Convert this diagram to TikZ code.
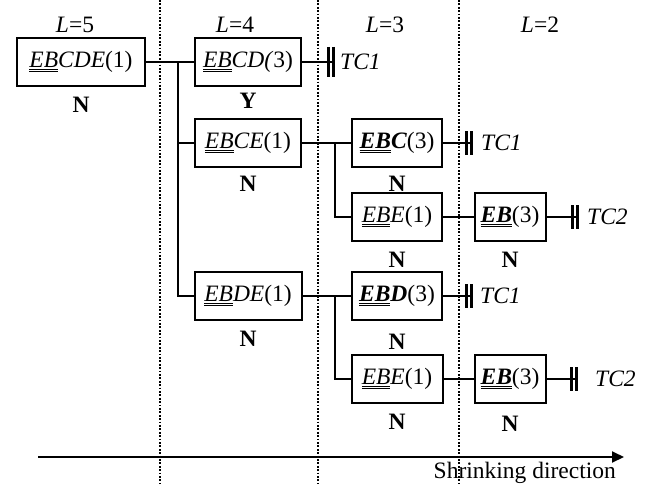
\documentclass[tikz,border=0pt]{standalone}
\usepackage{fontspec}
\setmainfont{Liberation Serif}
\usepackage{tikz}
\usetikzlibrary{positioning,arrows.meta}
\newcommand{\dul}[1]{\setbox0\hbox{#1}\rlap{\rule[-2.4pt]{\wd0}{0.75pt}}\rlap{\rule[-4.2pt]{\wd0}{0.75pt}}\box0}

\begin{document}
\begin{tikzpicture}[x=1pt,y=-1pt,font=\fontsize{23.5}{28}\selectfont,
	blk/.style={draw,line width=2pt,minimum height=48pt,inner sep=0pt},
	ans/.style={inner sep=0pt,font=\fontsize{23.5}{28}\selectfont\bfseries},
	lnk/.style={line width=2.2pt},
	tcbar/.style={lnk,-{Bar[width=#1,line width=3.2pt,sep=1.4pt]Bar[width=#1,line width=3.2pt]}},
	tcbar/.default=24pt,
	tc/.style={anchor=west,inner sep=0pt,font=\fontsize{23.5}{28}\selectfont\itshape},
	divider/.style={line width=1.8pt,dash pattern=on 1.8pt off 1.6pt}]
\useasboundingbox (0,0) rectangle (650,484);
\draw[divider] (160,0) -- (160,484);
\draw[divider] (318,0) -- (318,484);
\draw[divider] (459,0) -- (459,484);

\node at (75,25) {\textit{L}=5};
\node at (235,25) {\textit{L}=4};
\node at (385,25) {\textit{L}=3};
\node at (540,25) {\textit{L}=2};

	\node[blk,minimum width=128pt] (ebcde) at (81,62) {\textit{\dul{EB}CDE}(1)};
	\node[blk,minimum width=106pt] (ebcd) at (248,62) {\textit{\dul{EB}CD(}3)};
	\node[blk,minimum width=106pt] (ebce) at (248,143) {\textit{\dul{EB}CE}(1)};
	\node[blk,minimum width=107pt] (ebde) at (248,296) {\textit{\dul{EB}DE}(1)};
	\node[blk,minimum width=90pt] (ebc) at (397,143) {\textbf{\textit{\dul{EB}C}}(3)};
	\node[blk,minimum width=90pt] (ebeA) at (397,217) {\textit{\dul{EB}E}(1)};
	\node[blk,minimum width=71pt] (ebA) at (510,217) {\textbf{\textit{\dul{EB}}}(3)};
	\node[blk,minimum width=90pt] (ebd) at (397,296) {\textbf{\textit{\dul{EB}D}}(3)};
	\node[blk,minimum width=91pt] (ebeB) at (397,379) {\textit{\dul{EB}E}(1)};
	\node[blk,minimum width=71pt] (ebB) at (510,379) {\textbf{\textit{\dul{EB}}}(3)};

	\node[ans,below=10pt of ebcde] (nEbcde) {N};
	\node[ans,below=6pt of ebcd] (yEbcd) {Y};
	\node[ans,below=8pt of ebce] (nEbce) {N};
	\node[ans,below=10pt of ebde] (nEbde) {N};
	\node[ans,below=8pt of ebc] (nEbc) {N};
	\node[ans,below=10pt of ebeA] (nEbeA) {N};
	\node[ans,below=10pt of ebA] (nEbA) {N};
	\node[ans,below=13pt of ebd] (nEbd) {N};
	\node[ans,below=10pt of ebeB] (nEbeB) {N};
	\node[ans,below=12pt of ebB] (nEbB) {N};

\coordinate (j1) at (178,62);
\coordinate (j2) at (335,143);
\coordinate (j3) at (335,296);
	\draw[lnk] (ebcde) -- (ebcd);
	\draw[lnk] (j1) |- (ebce);
	\draw[lnk] (j1) |- (ebde);
	\draw[lnk] (ebce) -- (ebc);
	\draw[lnk] (j2) |- (ebeA);
	\draw[lnk] (ebeA) -- (ebA);
	\draw[lnk] (ebde) -- (ebd);
	\draw[lnk] (j3) |- (ebeB);
	\draw[lnk] (ebeB) -- (ebB);

\coordinate (endA) at (335,62);
\coordinate (endB) at (473,143);
\coordinate (endC) at (579,217);
\coordinate (endD) at (473,296);
\coordinate (endE) at (578,379);
	\draw[tcbar=30pt] (ebcd) -- (endA);
	\draw[tcbar] (ebc) -- (endB);
	\draw[tcbar] (ebA) -- (endC);
	\draw[tcbar] (ebd) -- (endD);
	\draw[tcbar] (ebB) -- (endE);
	\node[tc] (tcA) at (340,62) {TC1};
	\node[tc] (tcB) at (481,143) {TC1};
	\node[tc] (tcC) at (587,217) {TC2};
	\node[tc] (tcD) at (480,296) {TC1};
	\node[tc] (tcE) at (595,379) {TC2};

\coordinate (arrS) at (38,457);
\coordinate (arrE) at (624,457);
\draw[line width=2pt,-{Triangle[length=12pt,width=11pt]}] (arrS) -- (arrE);
\node[anchor=north east,inner sep=0pt] (dir) at (616,462) {Shrinking direction};
\end{tikzpicture}
\end{document}
